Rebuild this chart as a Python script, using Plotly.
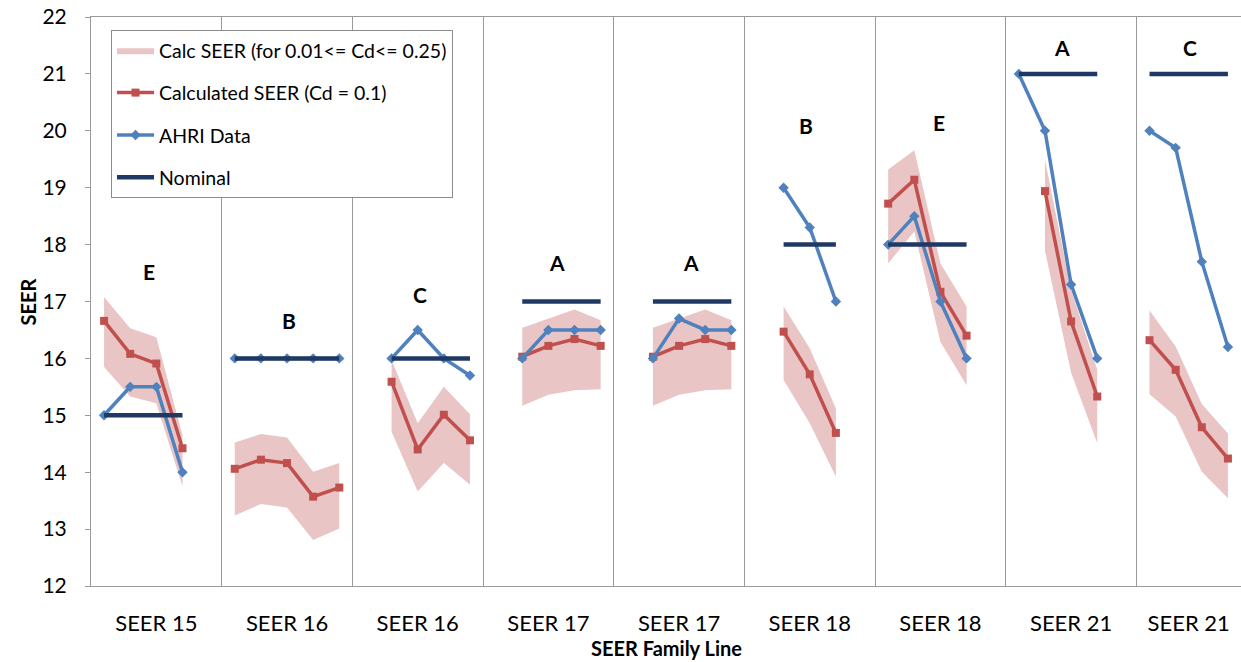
import plotly.graph_objects as go

# ---------------- data ----------------
group_labels = ["SEER 15", "SEER 16", "SEER 16", "SEER 17", "SEER 17",
                "SEER 18", "SEER 18", "SEER 21", "SEER 21"]
group_letters = ["E", "B", "C", "A", "A", "B", "E", "A", "C"]
group_sizes = [5, 5, 5, 5, 5, 5, 5, 5, 4]

N = None
calc_seer = [16.66, 16.08, 15.91, 14.42, N,
             14.06, 14.22, 14.16, 13.57, 13.73,
             N, 15.59, 14.40, 15.01, 14.56,
             N, 16.03, 16.22, 16.34, 16.22,
             N, 16.03, 16.22, 16.34, 16.22,
             N, 16.47, 15.72, 14.69, N,
             18.72, 19.14, 17.17, 16.40, N,
             N, 18.94, 16.65, 15.33, N,
             16.32, 15.80, 14.79, 14.24]
band_high = [17.08, 16.53, 16.37, 14.65, N,
             14.52, 14.67, 14.61, 14.01, 14.16,
             N, 15.97, 14.86, 15.50, 15.02,
             N, 16.54, 16.70, 16.86, 16.67,
             N, 16.54, 16.70, 16.86, 16.67,
             N, 16.91, 16.18, 15.12, N,
             19.32, 19.66, 17.67, 16.91, N,
             N, 19.49, 17.20, 15.80, N,
             16.84, 16.21, 15.20, 14.68]
band_low = [15.85, 15.33, 15.21, 13.75, N,
            13.24, 13.44, 13.38, 12.81, 13.01,
            N, 14.71, 13.66, 14.16, 13.78,
            N, 15.17, 15.36, 15.44, 15.46,
            N, 15.17, 15.36, 15.44, 15.46,
            N, 15.62, 14.86, 13.92, N,
            17.67, 18.23, 16.29, 15.53, N,
            N, 17.89, 15.75, 14.51, N,
            15.37, 14.98, 14.01, 13.54]
ahri = [15.0, 15.5, 15.5, 14.0, N,
        16.0, 16.0, 16.0, 16.0, 16.0,
        N, 16.0, 16.5, 16.0, 15.7,
        N, 16.0, 16.5, 16.5, 16.5,
        N, 16.0, 16.7, 16.5, 16.5,
        N, 19.0, 18.3, 17.0, N,
        18.0, 18.5, 17.0, 16.0, N,
        21.0, 20.0, 17.3, 16.0, N,
        20.0, 19.7, 17.7, 16.2]
nominal = [15, 15, 15, 15, N,
           16, 16, 16, 16, 16,
           N, 16, 16, 16, 16,
           N, 17, 17, 17, 17,
           N, 17, 17, 17, 17,
           N, 18, 18, 18, N,
           18, 18, 18, 18, N,
           21, 21, 21, 21, N,
           21, 21, 21, 21]

# letter label anchors (category position, SEER value)
letter_x = [1.72, 7.07, 12.09, 17.33, 22.45, 26.85, 31.94, 36.65, 41.54]
letter_y = [17.52, 16.67, 17.13, 17.69, 17.69, 20.10, 20.15, 21.47, 21.47]

# ---------------- derived ----------------
n_cat = sum(group_sizes)
xs = list(range(n_cat))
starts = []
s = 0
for g in group_sizes:
    starts.append(s)
    s += g
centers = [st + (g - 1) / 2 for st, g in zip(starts, group_sizes)]
boundaries = [st - 0.5 for st in starts[1:]]

# band polygons (one per contiguous run)
bx, by = [], []
run = []
for i in xs + [None]:
    if i is not None and band_high[i] is not None:
        run.append(i)
    else:
        if run:
            if bx:
                bx.append(None); by.append(None)
            bx += run + run[::-1]
            by += [band_high[j] for j in run] + [band_low[j] for j in run[::-1]]
        run = []

RED = "#C0504D"
BLUE = "#4F81BD"
NAVY = "#1F3864"
PINK = "rgb(234,197,197)"
FONT = "Lato, Open Sans, sans-serif"

fig = go.Figure()
fig.add_trace(go.Scatter(
    x=bx, y=by, mode="lines", fill="toself", fillcolor=PINK,
    line=dict(width=0, color=PINK), hoverinfo="skip",
    name="Calc SEER (for 0.01<= Cd<= 0.25)", legendgroup="a"))
fig.add_trace(go.Scatter(
    x=xs, y=calc_seer, mode="lines+markers", connectgaps=False,
    line=dict(color=RED, width=3.5),
    marker=dict(symbol="square", size=8, color=RED),
    name="Calculated SEER (Cd = 0.1)", legendgroup="b"))
fig.add_trace(go.Scatter(
    x=xs, y=ahri, mode="lines+markers", connectgaps=False,
    line=dict(color=BLUE, width=3.5),
    marker=dict(symbol="diamond", size=8, color=BLUE),
    name="AHRI Data", legendgroup="c"))
fig.add_trace(go.Scatter(
    x=xs, y=nominal, mode="lines", connectgaps=False,
    line=dict(color=NAVY, width=4.5),
    name="Nominal", legendgroup="d"))

for lx, ly, lt in zip(letter_x, letter_y, group_letters):
    fig.add_annotation(x=lx, y=ly, text="<b>%s</b>" % lt, showarrow=False,
                       font=dict(family=FONT, size=21, color="#000"),
                       xanchor="center", yanchor="middle")

# axis titles
fig.add_annotation(x=0.5, y=-0.109, xref="paper", yref="paper",
                   text="<b>SEER Family Line</b>", showarrow=False,
                   xanchor="center", yanchor="middle",
                   font=dict(family=FONT, size=20, color="#000"))
fig.add_annotation(x=-0.0548, y=0.5, xref="paper", yref="paper",
                   text="<b>SEER</b>", showarrow=False, textangle=-90,
                   xanchor="center", yanchor="middle",
                   font=dict(family=FONT, size=20, color="#000"))

fig.update_layout(
    width=1241, height=662,
    margin=dict(l=91, r=0, t=17, b=76, autoexpand=False),
    paper_bgcolor="white", plot_bgcolor="white",
    font=dict(family=FONT, size=18, color="#000"),
    showlegend=True,
    legend=dict(
        x=0.0174, y=0.977, xanchor="left", yanchor="top",
        bgcolor="white", bordercolor="#8c8c8c", borderwidth=1,
        font=dict(family=FONT, size=19.5, color="#000"),
        traceorder="grouped", tracegroupgap=14, itemwidth=37,
    ),
    xaxis=dict(
        range=[-0.5, n_cat - 0.5], automargin=False,
        tickmode="array", tickvals=centers, ticktext=group_labels,
        ticks="", showgrid=False, zeroline=False,
        showline=True, linecolor="#9a9a9a", linewidth=1, mirror=True,
        ticklabelstandoff=18,
        tickfont=dict(family=FONT, size=22, color="#000"),
        minor=dict(tickmode="array", tickvals=boundaries, showgrid=True,
                   gridcolor="#9a9a9a", gridwidth=1, ticks=""),
    ),
    yaxis=dict(
        range=[12, 22], tickmode="linear", tick0=12, dtick=1, automargin=False,
        showgrid=False, zeroline=False,
        showline=True, linecolor="#9a9a9a", linewidth=1,
        ticks="outside", ticklen=5, tickcolor="#9a9a9a",
        ticklabelstandoff=14,
        tickfont=dict(family=FONT, size=21, color="#000"),
    ),
)

fig.write_html("out.html", config={"displayModeBar": False},
               post_script="document.body.style.margin='0';document.body.style.padding='0';")
